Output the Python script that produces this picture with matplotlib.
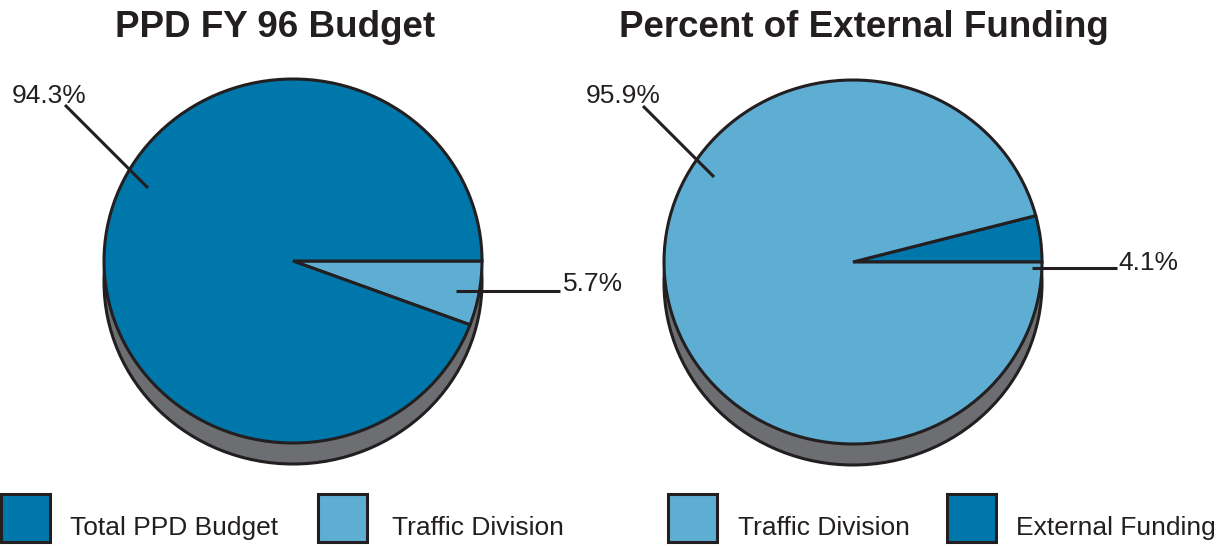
import matplotlib.pyplot as plt
from matplotlib.patches import Ellipse, Rectangle
from matplotlib.transforms import Affine2D

plt.rcParams['font.family'] = ['Liberation Sans', 'DejaVu Sans']

# PPD FY 96 budget split (percent)
budget_labels = ['Total PPD Budget', 'Traffic Division']
budget_values = [94.3, 5.7]

# Traffic Division funding split (percent)
funding_labels = ['Traffic Division', 'External Funding']
funding_values = [95.9, 4.1]

dark_blue = '#0077aa'
light_blue = '#5eadd2'
shadow_gray = '#6d6e71'
ink = '#231f20'

fig = plt.figure(figsize=(12.28, 5.46), dpi=100)
ax = fig.add_axes([0, 0, 1, 1])

rx, ry, depth = 189, 182, 21


def draw_pie(cx, cy, values, colors, counterclock):
    # grey base under the pie gives it some thickness
    ax.add_patch(Ellipse((cx, cy + depth), 2 * rx, 2 * ry, facecolor=shadow_gray,
                         edgecolor=ink, linewidth=2.2, zorder=1))
    wedges, _ = ax.pie(values, colors=colors, center=(cx, cy), radius=rx,
                       startangle=0, counterclock=counterclock, frame=True,
                       wedgeprops=dict(edgecolor=ink, linewidth=2.2, zorder=2))
    squash = Affine2D().translate(-cx, -cy).scale(1, ry / rx).translate(cx, cy)
    for w in wedges:
        w.set_transform(squash + ax.transData)
        w.set_zorder(2)


# left pie: traffic slice starts at 3 o'clock and runs clockwise
draw_pie(293, 261, [budget_values[1], budget_values[0]], [light_blue, dark_blue], True)
# right pie: external slice starts at 3 o'clock and runs anticlockwise
draw_pie(853, 262, [funding_values[1], funding_values[0]], [dark_blue, light_blue], False)

# leader lines and value labels
line_kw = dict(color=ink, linewidth=2.2, zorder=3, solid_capstyle='butt')
txt_kw = dict(fontsize=19, color=ink, va='baseline', zorder=4)

ax.plot([65, 148], [105, 188], **line_kw)
ax.text(12, 103, f'{budget_values[0]:.1f}%', ha='left', **txt_kw)
ax.plot([456, 560], [291, 291], **line_kw)
ax.text(563, 291, f'{budget_values[1]:.1f}%', ha='left', **txt_kw)

ax.plot([643, 714], [106, 177], **line_kw)
ax.text(586, 103, f'{funding_values[0]:.1f}%', ha='left', **txt_kw)
ax.plot([1032, 1117], [268, 268], **line_kw)
ax.text(1118, 270, f'{funding_values[1]:.1f}%', ha='left', **txt_kw)

# titles
ax.text(275, 37, 'PPD FY 96 Budget', fontsize=26.5, fontweight='bold',
        color=ink, ha='center', va='baseline')
ax.text(864, 37, 'Percent of External Funding', fontsize=26.5, fontweight='bold',
        color=ink, ha='center', va='baseline')

# legends
legend_items = [
    (0, 70, budget_labels[0], dark_blue),
    (317, 392, budget_labels[1], light_blue),
    (667, 738, funding_labels[0], light_blue),
    (946, 1016, funding_labels[1], dark_blue),
]
for bx, tx, label, color in legend_items:
    ax.add_patch(Rectangle((bx + 1, 494), 49, 48, facecolor=color, edgecolor=ink,
                           linewidth=2.2, zorder=3))
    ax.text(tx, 535, label, fontsize=19, color=ink, ha='left', va='baseline')

ax.set_xlim(0, 1228)
ax.set_ylim(546, 0)
ax.set_aspect('auto')
ax.axis('off')

fig.savefig('out.png', dpi=100, facecolor='white')
